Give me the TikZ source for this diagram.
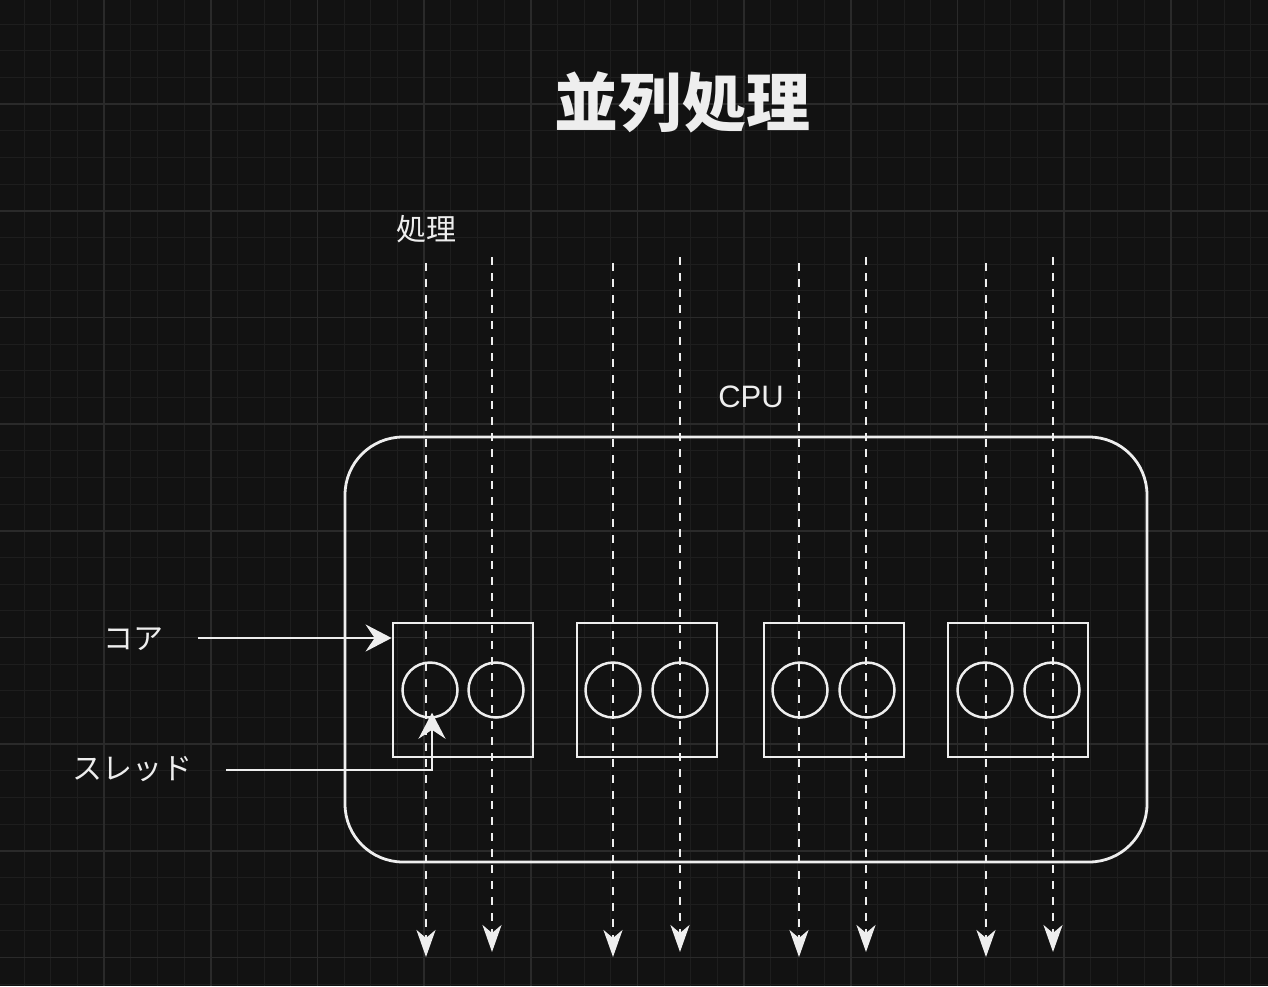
\documentclass[tikz,border=0pt]{standalone}
\usepackage{fontspec}
\setsansfont{Liberation Sans}
\newfontfamily\jp{Noto Sans CJK JP}
\usetikzlibrary{arrows.meta}
\definecolor{bg}{HTML}{121212}
\definecolor{minorg}{HTML}{1E1E1E}
\definecolor{majorg}{HTML}{2A2A2A}
\definecolor{fg}{HTML}{EEEEEE}
\tikzset{
  corebox/.style={draw=fg, line width=2.8pt, minimum width=140pt, minimum height=134pt, inner sep=0pt},
  thread/.style={draw=fg, circle, line width=2.5pt, minimum size=55pt, inner sep=0pt},
  cpubox/.style={draw=fg, line width=2.8pt, rounded corners=58pt, minimum width=802pt, minimum height=425pt, inner sep=0pt},
  lbl/.style={text=fg, inner sep=0pt, font=\jp\fontsize{30}{34}\selectfont},
  arr/.style={draw=fg, line width=2.5pt, -{Stealth[length=26pt,width=27pt,inset=9pt]}},
  darr/.style={draw=fg, line width=2.5pt, dash pattern=on 8pt off 8pt, -{Stealth[length=27pt,width=19pt,inset=8pt]}},
}
\begin{document}
\begin{tikzpicture}[x=1pt,y=-1pt]
\fill[bg] (0,0) rectangle (1268,986);
\useasboundingbox (0,0) rectangle (1268,986);
% grid
\foreach \i in {0,...,48} {
  \pgfmathsetmacro\p{26.6667*\i-2.5}
  \draw[minorg, line width=1pt] (\p,0) -- (\p,986);
}
\foreach \i in {0,...,38} {
  \pgfmathsetmacro\p{26.6667*\i-2.5}
  \draw[minorg, line width=1pt] (0,\p) -- (1268,\p);
}
\foreach \i in {1,...,12} {
  \pgfmathsetmacro\p{106.6667*\i-2.5}
  \draw[majorg, line width=1.5pt] (\p,0) -- (\p,986);
}
\foreach \i in {1,...,9} {
  \pgfmathsetmacro\p{106.6667*\i-2.5}
  \draw[majorg, line width=1.5pt] (0,\p) -- (1268,\p);
}
% CPU
\node[cpubox] (cpu) at (746,649.5) {};
\node[lbl, font=\sffamily\fontsize{31}{34}\selectfont] (cpulbl) at (751,396.5) {CPU};
% cores
\node[corebox] (k1) at (463,690) {};
\node[corebox] (k2) at (647,690) {};
\node[corebox] (k3) at (834,690) {};
\node[corebox] (k4) at (1018,690) {};
% threads
\node[thread] (c1) at (430,690) {};
\node[thread] (c2) at (496,690) {};
\node[thread] (c3) at (613,690) {};
\node[thread] (c4) at (680,690) {};
\node[thread] (c5) at (800,690) {};
\node[thread] (c6) at (867,690) {};
\node[thread] (c7) at (985,690) {};
\node[thread] (c8) at (1052,690) {};
% process flows
\foreach \n/\x/\t/\b in {1/426/263/957, 2/492/257/952, 3/613/263/957, 4/680/257/952, 5/799/263/957, 6/866/257/952, 7/986/263/957, 8/1053/257/952} {
  \coordinate (t\n) at (\x,\t);
  \coordinate (b\n) at (\x,\b);
  \draw[darr] (t\n) -- (b\n);
}
% labels
\node[lbl, font=\jp\bfseries\fontsize{64}{70}\selectfont] (title) at (682,102) {並列処理};
\node[lbl] (shori) at (426,229) {処理};
\node[lbl] (core) at (133,639) {コア};
\node[lbl] (thr) at (132,769) {スレッド};
% pointers
\coordinate (ca) at (198,638);
\draw[arr] (ca) -- (ca -| k1.west);
\coordinate (sa) at (226,770);
\draw[arr] (sa) -| ([xshift=2pt,yshift=6pt]c1.south);
\end{tikzpicture}
\end{document}
